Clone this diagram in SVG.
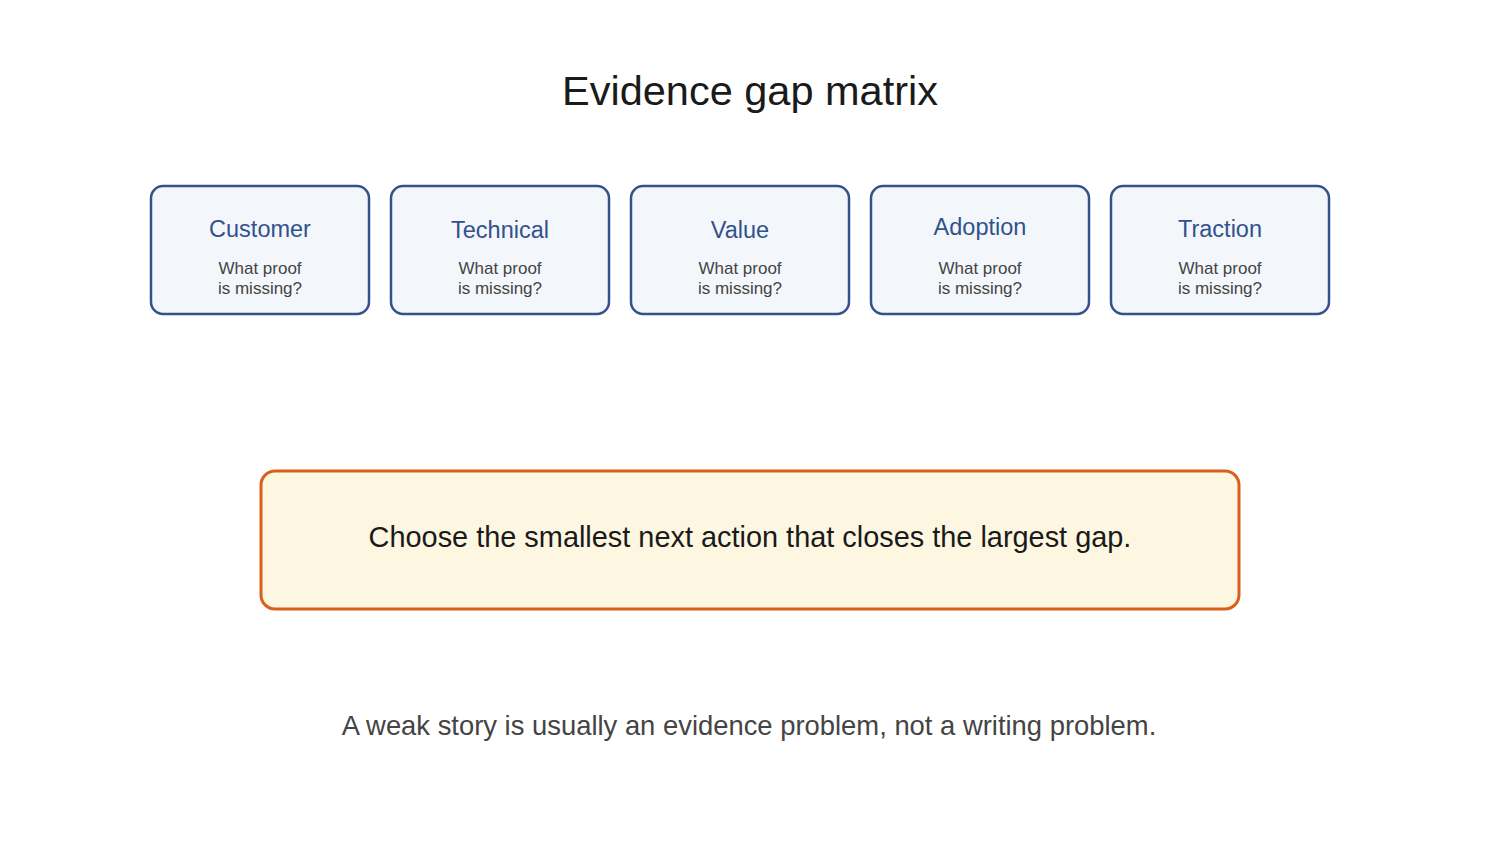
<svg xmlns="http://www.w3.org/2000/svg" width="1500" height="850" viewBox="0 0 1500 850">
<style>
text{font-family:"Liberation Sans",Arial,sans-serif;text-anchor:middle}
.card{fill:#f3f7fc;stroke:#31528a;stroke-width:2.5}
.head{font-size:23.5px;fill:#31528a}
.sub{font-size:17px;fill:#444444}
</style>
<rect width="1500" height="850" fill="#ffffff"/>
<text x="750" y="105" font-size="41.5" fill="#1a1a1a">Evidence gap matrix</text>
<g id="connectors"></g>
<g id="customer"><rect class="card" x="151" y="186" width="218" height="128" rx="12"/><text class="head" x="260" y="237">Customer</text><text class="sub" x="260" y="274">What proof</text><text class="sub" x="260" y="294">is missing?</text></g>
<g id="technical"><rect class="card" x="391" y="186" width="218" height="128" rx="12"/><text class="head" x="500" y="238">Technical</text><text class="sub" x="500" y="274">What proof</text><text class="sub" x="500" y="294">is missing?</text></g>
<g id="value"><rect class="card" x="631" y="186" width="218" height="128" rx="12"/><text class="head" x="740" y="238">Value</text><text class="sub" x="740" y="274">What proof</text><text class="sub" x="740" y="294">is missing?</text></g>
<g id="adoption"><rect class="card" x="871" y="186" width="218" height="128" rx="12"/><text class="head" x="980" y="235">Adoption</text><text class="sub" x="980" y="274">What proof</text><text class="sub" x="980" y="294">is missing?</text></g>
<g id="traction"><rect class="card" x="1111" y="186" width="218" height="128" rx="12"/><text class="head" x="1220" y="237">Traction</text><text class="sub" x="1220" y="274">What proof</text><text class="sub" x="1220" y="294">is missing?</text></g>
<g id="action"><rect x="261" y="471" width="978" height="138" rx="14" fill="#fdf6e0" stroke="#d9601a" stroke-width="3"/><text x="750" y="547" font-size="28.9" fill="#1a1a1a">Choose the smallest next action that closes the largest gap.</text></g>
<text x="749" y="735" font-size="27.4" fill="#444444">A weak story is usually an evidence problem, not a writing problem.</text>
</svg>
